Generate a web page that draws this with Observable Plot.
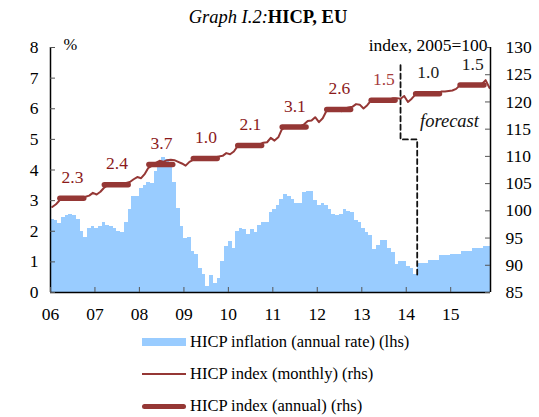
<!DOCTYPE html>
<html><head><meta charset="utf-8">
<script src="https://cdn.jsdelivr.net/npm/d3@7"></script>
<script src="https://cdn.jsdelivr.net/npm/@observablehq/plot@0.6"></script>
<style>
body{margin:0;background:#fff;font-family:"Liberation Serif","Times New Roman",serif;color:#000;}
#wrap{position:relative;width:539px;height:417px;overflow:hidden;background:#fff;}
#title{position:absolute;top:6px;left:0;width:536px;text-align:center;font-size:18.5px;line-height:22px;z-index:2;}
#chart{position:absolute;top:0;left:0;z-index:1;}
.leg{position:absolute;left:142px;font-size:16.5px;height:20px;line-height:20px;display:flex;align-items:center;white-space:nowrap;z-index:2;}
.sw{width:44px;margin-right:4px;display:inline-block;}
</style></head>
<body>
<div id="wrap">
  <div id="chart"></div>
  <div id="title"><i>Graph I.2:</i><b>HICP, EU</b></div>
  <div class="leg" style="top:332px"><span class="sw" style="height:8px;background:#99CCFF"></span>HICP inflation (annual rate) (lhs)</div>
  <div class="leg" style="top:364px"><span class="sw" style="height:2px;background:#953735"></span>HICP index (monthly) (rhs)</div>
  <div class="leg" style="top:396px"><span class="sw" style="height:5px;background:#953735;border-radius:3px"></span>HICP index (annual) (rhs)</div>
</div>
<script>
const years = [2006,2007,2008,2009,2010,2011,2012,2013,2014,2015];
const xTickLabels = ["06","07","08","09","10","11","12","13","14","15"];
const leftTicks = [0,1,2,3,4,5,6,7,8];
const rightTicks = [85,90,95,100,105,110,115,120,125,130];

// HICP inflation, annual rate (%), monthly Jan 2006 - Dec 2015 (lhs)
const inflation = [
  2.4,2.35,2.25,2.45,2.5,2.55,2.5,2.4,2.0,1.8,2.1,2.15,
  2.1,2.15,2.3,2.2,2.15,2.1,2.0,1.95,2.3,2.7,3.15,3.15,
  3.4,3.5,3.6,3.55,3.95,4.2,4.4,4.35,4.2,3.6,2.75,2.15,
  1.75,1.8,1.35,1.25,0.8,0.6,0.2,0.55,0.3,0.45,1.0,1.5,
  1.65,1.45,2.0,2.1,2.05,1.9,2.05,1.95,2.2,2.3,2.3,2.6,
  2.7,2.85,3.05,3.2,3.15,3.05,2.9,2.9,3.25,3.3,3.3,3.0,
  2.85,2.9,2.85,2.7,2.55,2.5,2.55,2.7,2.65,2.6,2.35,2.3,
  2.1,1.95,1.85,1.4,1.55,1.7,1.7,1.45,1.3,0.9,1.0,1.0,
  0.85,0.8,0.6,0.95,0.95,0.95,1.05,1.05,1.05,1.2,1.2,1.2,
  1.25,1.25,1.25,1.35,1.35,1.35,1.45,1.45,1.45,1.5,1.5,1.5
];
// HICP index (2005=100), monthly (rhs)
const indexMonthly = [
  100.7,101.2,101.9,102.3,102.5,102.5,102.3,102.5,102.5,102.6,102.8,103.3,
  103.0,103.5,104.2,104.7,104.8,104.9,104.6,104.8,105.1,105.3,105.8,106.2,
  106.0,106.8,107.9,108.3,108.8,109.2,109.0,109.3,109.4,109.3,109.0,108.7,
  108.3,109.0,109.3,109.6,109.7,109.8,109.4,109.8,109.8,110.0,110.1,110.6,
  110.4,110.9,111.8,112.1,112.1,112.1,111.8,112.0,112.2,112.5,112.6,113.4,
  112.9,113.5,114.9,115.5,115.5,115.5,115.2,115.5,115.9,116.5,116.6,117.2,
  116.3,117.0,118.3,118.8,118.7,118.6,118.3,118.8,119.0,119.1,119.6,119.5,
  118.8,119.4,120.2,120.4,120.5,120.5,120.2,120.4,120.7,120.7,120.6,121.1,
  120.0,120.6,121.3,121.5,121.5,121.5,121.5,121.6,121.6,121.9,121.9,122.0,
  122.1,122.4,123.0,123.0,123.0,123.0,123.1,123.1,123.3,124.0,122.6,122.4
];
// HICP index, annual average (rhs) and annual growth labels
const indexAnnual = [102.3,104.8,108.5,109.6,112.0,115.4,118.6,120.3,121.5,123.1];
const growthLabels = ["2.3","2.4","3.7","1.0","2.1","3.1","2.6","1.5","1.0","1.5"];
// forecast marker (lhs units)
const forecastDates = ["2013-11-15","2013-11-15","2014-04-01","2014-04-01"];
const forecastLevels = [7.42,5.0,5.0,0.5];
const forecastTextDate = "2014-12-22";
const forecastTextLevel = 5.59;

const xStart = new Date(Date.UTC(2006,0,1));
const xEnd = new Date(Date.UTC(2015,10,24));
const y2 = d3.scaleLinear([85,130],[0,8]); // rhs -> lhs units

const months = d3.utcMonths(new Date(Date.UTC(2006,0,1)), new Date(Date.UTC(2016,0,1)));
const bars = months.map((d,i)=>({start:d,end:d3.utcMonth.offset(d,1),value:inflation[i]}));
const mline = months.map((d,i)=>({date:d3.utcDay.offset(d,14),value:y2(indexMonthly[i])}));
const segs = years.flatMap((yr,i)=>[
  {year:yr,date:new Date(Date.UTC(yr,2,19)),value:y2(indexAnnual[i])},
  {year:yr,date:new Date(Date.UTC(yr,9,1)),value:y2(indexAnnual[i])}
]);
const labels = years.map((yr,i)=>({date:new Date(Date.UTC(yr,6,1)),value:y2(indexAnnual[i]),text:growthLabels[i],
  color: yr>=2014 ? "#1a1a1a" : (yr===2013 ? "#a63c3c" : "#8b1a1a")}));
const fmarker = forecastDates.map((d,i)=>({date:new Date(d),value:forecastLevels[i]}));
const xTicks = years.map(yr=>new Date(Date.UTC(yr,0,1)));

const W=539,H=330,mL=50,mR=49,mT=47,mB=38;
const iw=W-mL-mR, ih=H-mT-mB;

const chart = Plot.plot({
  width:W,height:H,marginLeft:mL,marginRight:mR,marginTop:mT,marginBottom:mB,
  x:{type:"utc",domain:[xStart,xEnd]},
  y:{domain:[0,8]},
  style:{fontFamily:"'Liberation Serif', 'Times New Roman', serif",fontSize:"17.5px",color:"#000",background:"transparent",overflow:"visible"},
  marks:[
    Plot.rectY(bars,{x1:"start",x2:"end",y:"value",fill:"#99CCFF",clip:true,shapeRendering:"crispEdges"}),
    Plot.line(fmarker,{x:"date",y:"value",stroke:"#111",strokeWidth:1.8,strokeDasharray:"5,3.5"}),
    Plot.line(mline,{x:"date",y:"value",stroke:"#953735",strokeWidth:2,clip:true}),
    Plot.line(segs,{x:"date",y:"value",z:"year",stroke:"#953735",strokeWidth:5.5,strokeLinecap:"round"}),
    Plot.text(labels,{x:"date",y:"value",text:"text",fill:"color",dy:-21,fontSize:17.5}),
    Plot.text(["forecast"],{x:()=>new Date(forecastTextDate),y:()=>forecastTextLevel,fontStyle:"italic",fontSize:18.5,fill:"#111"}),
    Plot.text(["%"],{frameAnchor:"top-left",dx:13,dy:-3,textAnchor:"start",lineAnchor:"middle",fontSize:16.5}),
    Plot.text(["index, 2005=100"],{frameAnchor:"top-right",dx:-3,dy:-2,textAnchor:"end",lineAnchor:"middle",fontSize:17.5}),
    Plot.ruleX([xStart],{stroke:"#000",strokeWidth:1.5}),
    Plot.ruleX([xEnd],{stroke:"#000",strokeWidth:1.5}),
    Plot.ruleY([0],{stroke:"#000",strokeWidth:1.5}),
    Plot.tickY(leftTicks,{y:d=>d,insetRight:iw-5,stroke:"#555"}),
    Plot.tickY(rightTicks,{y:d=>y2(d),insetLeft:iw-5,stroke:"#555"}),
    Plot.tickX(xTicks,{x:d=>d,insetTop:ih-5,stroke:"#555"}),
    Plot.axisY(leftTicks,{anchor:"left",tickSize:0,tickPadding:12,label:null}),
    Plot.axisY(rightTicks.map(v=>y2(v)),{anchor:"right",tickSize:0,tickPadding:15,label:null,textAnchor:"start",tickFormat:d=>String(Math.round(y2.invert(d)))}),
    Plot.axisX(xTicks,{anchor:"bottom",tickSize:0,tickPadding:15,label:null,tickFormat:d=>xTickLabels[d.getUTCFullYear()-2006]})
  ]
});
document.getElementById("chart").appendChild(chart);
</script>
</body></html>
